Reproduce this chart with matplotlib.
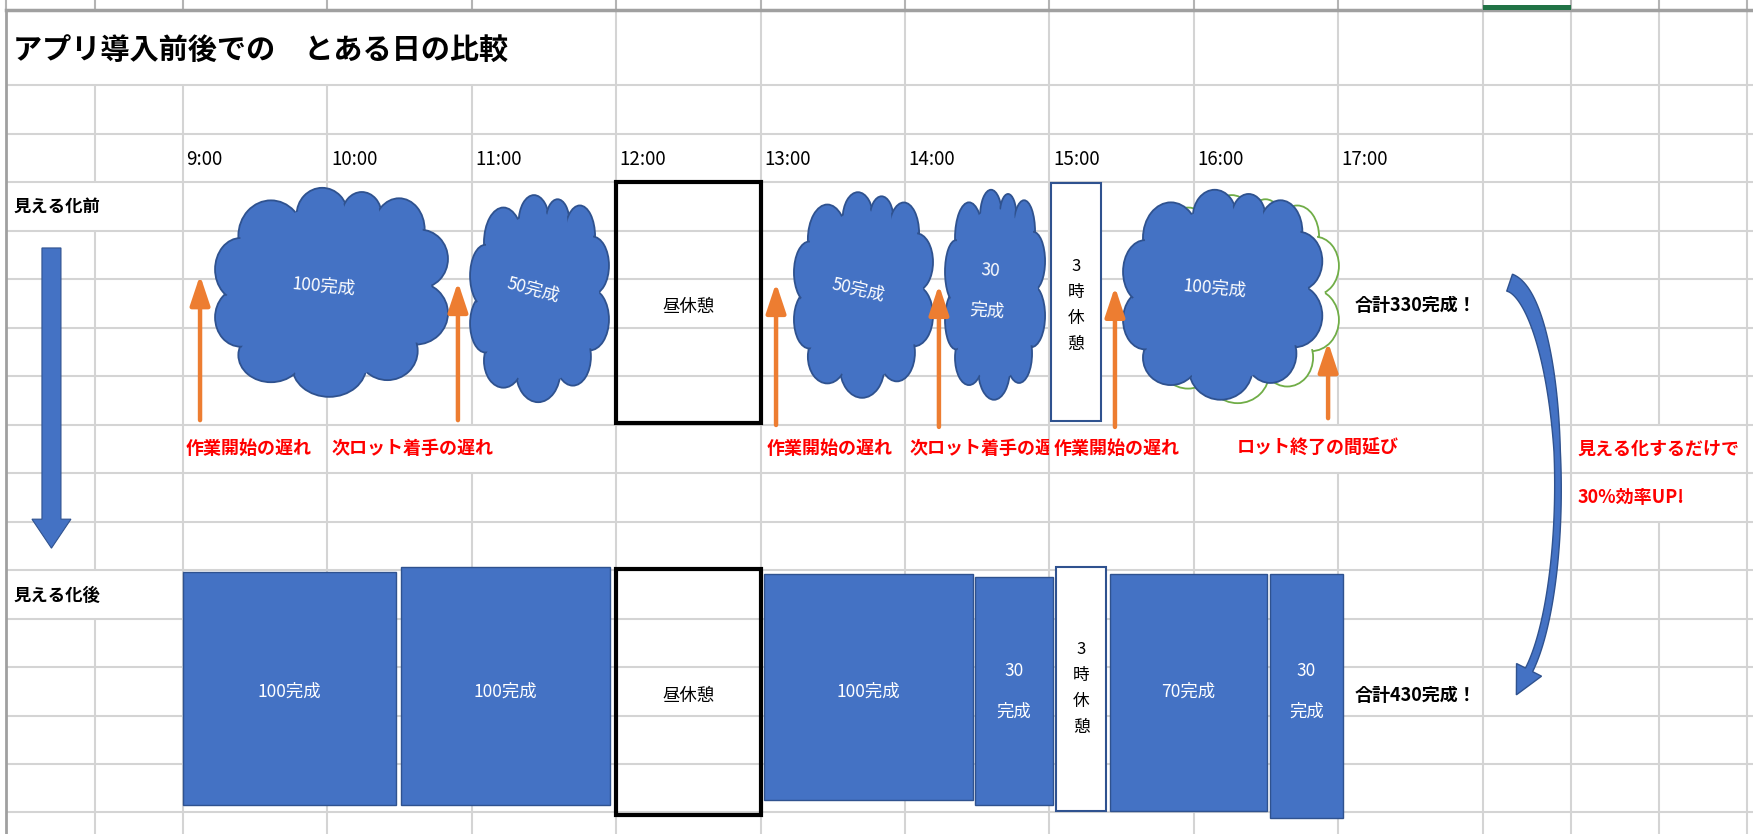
import numpy as np
import matplotlib
matplotlib.use('Agg')
import matplotlib.pyplot as plt
from matplotlib.patches import Rectangle, Ellipse, FancyArrow, Polygon
from matplotlib.collections import LineCollection

plt.rcParams['font.family'] = ['Noto Sans CJK JP', 'DejaVu Sans']

# ---- sheet layout: x = hour of the day, y = sheet row (row 0 = first row under the title) ----
col_edges = [7.774, 8.39, 9, 10, 11, 12, 13, 14, 15, 16, 17, 18.003, 18.612, 19.22, 19.83]
row_edges = [-1.55] + list(range(0, 16))
hour_pos = [9, 10, 11, 12, 13, 14, 15, 16, 17]
hour_labels = ['9:00', '10:00', '11:00', '12:00', '13:00', '14:00', '15:00', '16:00', '17:00']
# gridline pieces hidden by overflowing text (column edge, row)
hidden_x = [8.39, 9, 10, 11, 8.39, 8.39, 11, 17, 19.22, 19.22]
hidden_row = [-1, -1, -1, -1, 2, 10, 7, 7, 7, 8]

title = 'アプリ導入前後での\u3000とある日の比較'
row_names = ['見える化前', '見える化後']
row_name_y = [2.52, 10.53]

# ---- before: clouds of work ----
cloud_x0 = [9.222, 10.988, 13.231, 14.277, 15.51]
cloud_x1 = [10.835, 11.95, 14.194, 14.97, 16.89]
cloud_y0 = [2.12, 2.27, 2.21, 2.16, 2.16]
cloud_y1 = [6.43, 6.54, 6.45, 6.49, 6.49]
cloud_text = ['100完成', '50完成', '50完成', '30\n完成', '100完成']
cloud_tx = [9.976, 11.424, 13.675, 14.58, 16.147]
cloud_ty = [4.16, 4.23, 4.23, 4.25, 4.19]
cloud_rot = [-5, -15, -13, -4, -5]
ghost_x = [15.63, 17.005]
ghost_y = [2.27, 6.56]

# delays (orange arrows + red notes)
delay_x = [9.118, 10.904, 13.107, 14.235, 15.454, 16.93]
delay_base = [6.91, 6.91, 7.01, 7.05, 7.05, 6.87]
delay_tip = [3.92, 4.06, 4.08, 4.12, 4.16, 5.30]
delay_text = ['作業開始の遅れ', '次ロット着手の遅れ', '作業開始の遅れ',
              '次ロット着手の遅', '作業開始の遅れ', 'ロット終了の間延び']
delay_text_x = [9.02, 10.025, 13.04, 14.03, 15.03, 16.30]
delay_text_end = [10, 13, 14, 15, 16, 18.612]

# ---- after: blocks of work ----
box_x0 = [8.997, 10.51, 13.024, 14.488, 15.42, 16.528]
box_x1 = [10.475, 11.954, 14.471, 15.025, 16.507, 17.034]
box_y0 = [10.04, 9.94, 10.08, 10.14, 10.08, 10.08]
box_y1 = [14.85, 14.85, 14.74, 14.85, 14.97, 15.11]
box_text = ['100完成', '100完成', '100完成', '30\n完成', '70完成', '30\n完成']

# breaks (before, after)
lunch_x = [12.0, 13.0]
lunch_y0 = [2.0, 9.98]
lunch_y1 = [6.97, 15.05]
lunch_ty = [4.58, 12.6]
rest_x0 = [15.011, 15.049]
rest_x1 = [15.357, 15.392]
rest_y0 = [2.02, 9.94]
rest_y1 = [6.93, 14.97]
rest_ty = [4.54, 12.44]

totals = ['合計330完成！', '合計430完成！']
total_x = 17.116
total_y = [4.54, 12.58]
note_text = ['見える化するだけで', '30%効率UP!']
note_x = 18.66
note_y = [7.5, 8.5]

down_x = 8.089
down_y = [3.36, 9.55]
bend_center = (18.155, 8.29)
bend_radius = (0.367, 4.23)
bend_span = (-85, 63)

BLUE = '#4472C4'
DARK = '#2F528F'
ORANGE = '#ED7D31'

x_lo, x_hi = 7.7327, 19.8726
y_top, y_bot = -1.7526, 15.4433

fig = plt.figure(figsize=(17.53, 8.34), dpi=100)
ax = fig.add_axes([0, 0, 1, 1])
ax.set_xlim(x_lo, x_hi)
ax.set_ylim(y_bot, y_top)
ax.axis('off')
kx = fig.get_figwidth() * fig.dpi / (x_hi - x_lo)
ky = fig.get_figheight() * fig.dpi / (y_bot - y_top)

# grid
bands = [(-1, row_edges[0], 0)] + [(k, k, k + 1) for k in range(15)] + [(15, 15, y_bot)]
hidden = set(zip(hidden_x, hidden_row))
segs = []
for x in col_edges[1:]:
    for k, a, b in bands:
        if (x, k) not in hidden:
            segs.append([(x, a), (x, b)])
for y in row_edges[1:]:
    segs.append([(col_edges[0], y), (x_hi, y)])
ax.add_collection(LineCollection(segs, colors='#D4D4D4', linewidths=1.5, zorder=1))
ax.add_collection(LineCollection([[(x, y_top), (x, row_edges[0])] for x in col_edges],
                                 colors='#B4B4B4', linewidths=1.5, zorder=1))
ax.plot([col_edges[0], x_hi], [row_edges[0]] * 2, color='#A0A0A0', lw=2.5, zorder=2)
ax.plot([col_edges[0]] * 2, [row_edges[0], y_bot], color='#A0A0A0', lw=2, zorder=2)
ax.add_patch(Rectangle((col_edges[11], -1.65), col_edges[12] - col_edges[11], 0.11,
                       fc='#217346', ec='none', zorder=3))

# texts in cells
ax.text(7.823, -0.72, title, fontsize=21, fontweight='bold', va='center', ha='left')
for p, lab in zip(hour_pos, hour_labels):
    ax.text(p + 0.025, 1.54, lab, fontsize=13.5, va='center', ha='left',
            family=['Liberation Sans Narrow', 'Noto Sans CJK JP'])
for lab, y in zip(row_names, row_name_y):
    ax.text(7.823, y, lab, fontsize=12.5, fontweight='bold', va='center', ha='left')


def cloud(x0, x1, y0, y1, face, edge, z):
    bumps = [(0.24, 0.23, 0.14, 0.17), (0.46, 0.13, 0.11, 0.13), (0.63, 0.13, 0.085, 0.11),
             (0.79, 0.20, 0.11, 0.15), (0.88, 0.34, 0.12, 0.14), (0.86, 0.60, 0.14, 0.15),
             (0.74, 0.78, 0.13, 0.14), (0.49, 0.85, 0.16, 0.15), (0.24, 0.80, 0.14, 0.13),
             (0.11, 0.62, 0.11, 0.14), (0.11, 0.39, 0.11, 0.15)]
    w, h = x1 - x0, y1 - y0
    for cx, cy, rx, ry in bumps:
        ax.add_patch(Ellipse((x0 + cx * w, y0 + cy * h), 2 * rx * w, 2 * ry * h,
                             fc=face, ec=edge, lw=1.3, zorder=z))
    sx, sy = 2.0 / kx, 2.0 / ky
    for cx, cy, rx, ry in bumps:
        ax.add_patch(Ellipse((x0 + cx * w, y0 + cy * h), 2 * rx * w - 2 * sx, 2 * ry * h - 2 * sy,
                             fc=face, ec='none', zorder=z + 0.01))
    ax.add_patch(Ellipse((x0 + 0.5 * w, y0 + 0.5 * h), 0.86 * w, 0.82 * h,
                         fc=face, ec='none', zorder=z + 0.02))


# before row
cloud(ghost_x[0], ghost_x[1], ghost_y[0], ghost_y[1], 'white', '#70AD47', 3)
for i in range(len(cloud_text)):
    cloud(cloud_x0[i], cloud_x1[i], cloud_y0[i], cloud_y1[i], BLUE, DARK, 3.1 + i * 0.1)
    ax.text(cloud_tx[i], cloud_ty[i], cloud_text[i], color='white', fontsize=12.5,
            rotation=cloud_rot[i], ha='center', va='center', linespacing=2.6, zorder=5)

# after row
for i in range(len(box_text)):
    ax.add_patch(Rectangle((box_x0[i], box_y0[i]), box_x1[i] - box_x0[i], box_y1[i] - box_y0[i],
                           fc=BLUE, ec=DARK, lw=1, zorder=3))
    ax.text((box_x0[i] + box_x1[i]) / 2, 12.5, box_text[i], color='white', fontsize=12.5,
            ha='center', va='center', linespacing=2.6, zorder=5)

# breaks
for i in range(2):
    ax.add_patch(Rectangle((lunch_x[0], lunch_y0[i]), lunch_x[1] - lunch_x[0], lunch_y1[i] - lunch_y0[i],
                           fc='none', ec='black', lw=3, zorder=3))
    ax.text(sum(lunch_x) / 2, lunch_ty[i], '昼休憩', fontsize=12.5, ha='center', va='center', zorder=5)
    ax.add_patch(Rectangle((rest_x0[i], rest_y0[i]), rest_x1[i] - rest_x0[i], rest_y1[i] - rest_y0[i],
                           fc='white', ec=DARK, lw=1.5, zorder=3))
    ax.text((rest_x0[i] + rest_x1[i]) / 2, rest_ty[i], '3\n時\n休\n憩', fontsize=12,
            ha='center', va='center', linespacing=1.7, zorder=5)

# delay arrows and notes
for i in range(len(delay_x)):
    ax.annotate('', xy=(delay_x[i], delay_tip[i]), xytext=(delay_x[i], delay_base[i]),
                arrowprops=dict(arrowstyle='-|>,head_length=0.9,head_width=0.3', color=ORANGE,
                                lw=3.2, mutation_scale=20, shrinkA=0, shrinkB=0), zorder=6)
    t = ax.text(delay_text_x[i], 7.5, delay_text[i], color='#FF0000', fontsize=13,
                fontweight='bold', ha='left', va='center', zorder=5)
    clip = Rectangle((delay_text_x[i] - 0.1, 7), delay_text_end[i] - delay_text_x[i] + 0.1, 1,
                     transform=ax.transData)
    t.set_clip_on(True)
    t.set_clip_path(clip)

for lab, y in zip(totals, total_y):
    ax.text(total_x, y, lab, fontsize=13, fontweight='bold', ha='left', va='center', zorder=5)
for lab, y in zip(note_text, note_y):
    ax.text(note_x, y, lab, fontsize=13, fontweight='bold', color='#FF0000',
            ha='left', va='center', zorder=5)

# big down arrow between the two rows
ax.add_patch(FancyArrow(down_x, down_y[0], 0, down_y[1] - down_y[0], width=0.1316,
                        head_width=0.27, head_length=0.598, length_includes_head=True,
                        fc=BLUE, ec=DARK, lw=0.8, zorder=4))

# curved arrow on the right
th = np.radians(np.linspace(bend_span[0], bend_span[1], 80))
px = (bend_center[0] + bend_radius[0] * np.cos(th)) * kx
py = (bend_center[1] + bend_radius[1] * np.sin(th)) * ky
dx = -bend_radius[0] * kx * np.sin(th)
dy = bend_radius[1] * ky * np.cos(th)
nrm = np.hypot(dx, dy)
ux, uy = dx / nrm, dy / nrm
nx, ny = -uy, ux
half = np.interp(th, [th[0], th[len(th) // 2], th[-1]], [9, 3.2, 4])
outer = np.column_stack([px + nx * half, py + ny * half])
inner = np.column_stack([px - nx * half, py - ny * half])
head = np.array([[px[-1] + nx[-1] * 14, py[-1] + ny[-1] * 14],
                 [px[-1] + ux[-1] * 28, py[-1] + uy[-1] * 28],
                 [px[-1] - nx[-1] * 14, py[-1] - ny[-1] * 14]])
poly = np.vstack([outer, head, inner[::-1]])
poly[:, 0] /= kx
poly[:, 1] /= ky
ax.add_patch(Polygon(poly, closed=True, fc=BLUE, ec=DARK, lw=1, zorder=4))

fig.savefig('out.png', dpi=100, facecolor='white')
